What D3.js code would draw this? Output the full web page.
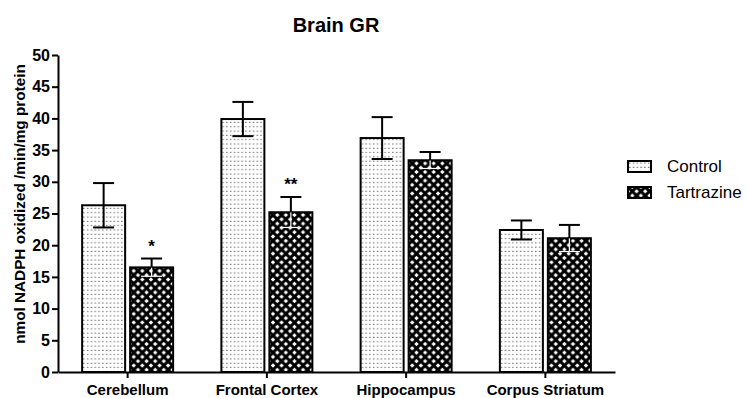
<!DOCTYPE html>
<html>
<head>
<meta charset="utf-8">
<script src="https://cdn.jsdelivr.net/npm/d3@7/dist/d3.min.js"></script>
<style>
  html, body { margin: 0; padding: 0; background: #fff; }
  svg { display: block; font-family: "Liberation Sans", Arial, sans-serif; }
</style>
</head>
<body>
<svg id="chart" width="748" height="398"></svg>
<script>
// Brain glutathione reductase activity, mean ± SEM
const regions = ["Cerebellum", "Frontal Cortex", "Hippocampus", "Corpus Striatum"];
const groups = ["Control", "Tartrazine"];
const controlMean = [26.3, 39.9, 36.9, 22.4];
const controlSem = [3.5, 2.7, 3.3, 1.5];
const tartrazineMean = [16.5, 25.2, 33.4, 21.1];
const tartrazineSem = [1.4, 2.4, 1.3, 2.1];
const significance = ["*", "**", "", ""];
const yTicks = [0, 5, 10, 15, 20, 25, 30, 35, 40, 45, 50];

const svg = d3.select("#chart");
const defs = svg.append("defs");

// Fine dot stipple for the control bars
const dots = defs.append("pattern")
  .attr("id", "dots").attr("patternUnits", "userSpaceOnUse")
  .attr("width", 3.8).attr("height", 4.3);
dots.append("rect").attr("width", 3.8).attr("height", 4.3).attr("fill", "#fff");
dots.append("rect").attr("x", 1.2).attr("y", 1.5).attr("width", 1.1).attr("height", 1.1).attr("fill", "#444");

// Dense cross-hatch (white diamonds on black) for the tartrazine bars
const s = 8.6, d = 2.2;
const hatch = defs.append("pattern")
  .attr("id", "hatch").attr("patternUnits", "userSpaceOnUse")
  .attr("width", s).attr("height", s);
hatch.append("rect").attr("width", s).attr("height", s).attr("fill", "#000");
[[s / 2, 0], [s / 2, s], [0, s / 2], [s, s / 2]].forEach(([cx, cy]) => {
  hatch.append("path")
    .attr("d", `M${cx - d},${cy} L${cx},${cy - d} L${cx + d},${cy} L${cx},${cy + d} Z`)
    .attr("fill", "#fff");
});

const fills = { Control: "url(#dots)", Tartrazine: "url(#hatch)" };

const x0 = d3.scaleBand().domain(regions).range([58, 615]).padding(0);
const x1 = d3.scaleBand().domain(groups).range([0, 91]).paddingInner(0.104).paddingOuter(0);
const y = d3.scaleLinear().domain([0, 50]).range([372, 55]);

const rows = regions.map((r, i) => ({
  region: r,
  sig: significance[i],
  bars: [
    { group: "Control", mean: controlMean[i], sem: controlSem[i] },
    { group: "Tartrazine", mean: tartrazineMean[i], sem: tartrazineSem[i] }
  ]
}));

// Title
svg.append("text")
  .attr("x", 336).attr("y", 32)
  .attr("text-anchor", "middle")
  .attr("font-size", 20).attr("font-weight", "bold")
  .text("Brain GR");

// Bars
const g = svg.append("g");
const groupSel = g.selectAll("g.region").data(rows).join("g")
  .attr("class", "region")
  .attr("transform", r => `translate(${x0(r.region) + x0.bandwidth() / 2 - 45.5},0)`);

groupSel.selectAll("rect.bar").data(r => r.bars).join("rect")
  .attr("class", "bar")
  .attr("x", b => x1(b.group))
  .attr("y", b => y(b.mean))
  .attr("width", x1.bandwidth())
  .attr("height", b => y(0) - y(b.mean))
  .attr("fill", b => fills[b.group])
  .attr("stroke", "#000").attr("stroke-width", 2);

// Error bars
const capW = 21;
groupSel.each(function (r) {
  const sel = d3.select(this);
  r.bars.forEach(b => {
    const cx = x1(b.group) + x1.bandwidth() / 2;
    const inner = b.group === "Tartrazine" ? "#fff" : "#000";
    const innerW = b.group === "Tartrazine" ? 1.2 : 2;
    // lower half sits inside the bar
    sel.append("line")
      .attr("x1", cx).attr("x2", cx)
      .attr("y1", y(b.mean)).attr("y2", y(b.mean - b.sem))
      .attr("stroke", inner).attr("stroke-width", innerW);
    sel.append("line")
      .attr("x1", cx - capW / 2).attr("x2", cx + capW / 2)
      .attr("y1", y(b.mean - b.sem)).attr("y2", y(b.mean - b.sem))
      .attr("stroke", inner).attr("stroke-width", innerW);
    // upper half
    sel.append("line")
      .attr("x1", cx).attr("x2", cx)
      .attr("y1", y(b.mean)).attr("y2", y(b.mean + b.sem))
      .attr("stroke", "#000").attr("stroke-width", 2);
    sel.append("line")
      .attr("x1", cx - capW / 2).attr("x2", cx + capW / 2)
      .attr("y1", y(b.mean + b.sem)).attr("y2", y(b.mean + b.sem))
      .attr("stroke", "#000").attr("stroke-width", 2);
  });
  // significance marker above the tartrazine bar
  if (r.sig) {
    const tb = r.bars[1];
    sel.append("text")
      .attr("x", x1("Tartrazine") + x1.bandwidth() / 2)
      .attr("y", y(tb.mean + tb.sem) - 7)
      .attr("text-anchor", "middle")
      .attr("font-size", 17).attr("font-weight", "bold")
      .text(r.sig);
  }
});

// Y axis
const yAxis = svg.append("g")
  .attr("transform", "translate(58,0)")
  .call(d3.axisLeft(y).tickValues(yTicks).tickSize(6).tickPadding(2).tickSizeOuter(0));
yAxis.select(".domain").attr("stroke-width", 2);
yAxis.selectAll(".tick line").attr("stroke-width", 2);
yAxis.selectAll(".tick text")
  .attr("font-size", 16).attr("font-weight", "bold").attr("fill", "#000")
  .attr("font-family", "Liberation Sans, Arial, sans-serif");

// X axis
const xAxis = svg.append("g")
  .attr("transform", `translate(0,${y(0)})`)
  .call(d3.axisBottom(x0).tickSize(6).tickPadding(6).tickSizeOuter(0));
xAxis.select(".domain").attr("stroke-width", 2);
xAxis.selectAll(".tick line").attr("stroke-width", 2);
xAxis.selectAll(".tick text")
  .attr("font-size", 15).attr("font-weight", "bold").attr("fill", "#000")
  .attr("font-family", "Liberation Sans, Arial, sans-serif");

// Y axis title
svg.append("text")
  .attr("transform", "translate(25,204) rotate(-90)")
  .attr("text-anchor", "middle")
  .attr("font-size", 15.3).attr("font-weight", "bold")
  .text("nmol NADPH oxidized /min/mg protein");

// Legend
const legend = svg.append("g").attr("transform", "translate(628,161)");
groups.forEach((grp, i) => {
  const row = legend.append("g").attr("transform", `translate(0,${i * 26})`);
  row.append("rect")
    .attr("width", 23).attr("height", 11)
    .attr("fill", fills[grp]).attr("stroke", "#000").attr("stroke-width", 2);
  row.append("text")
    .attr("x", 39).attr("y", 11)
    .attr("font-size", 17)
    .text(grp);
});
</script>
</body>
</html>
